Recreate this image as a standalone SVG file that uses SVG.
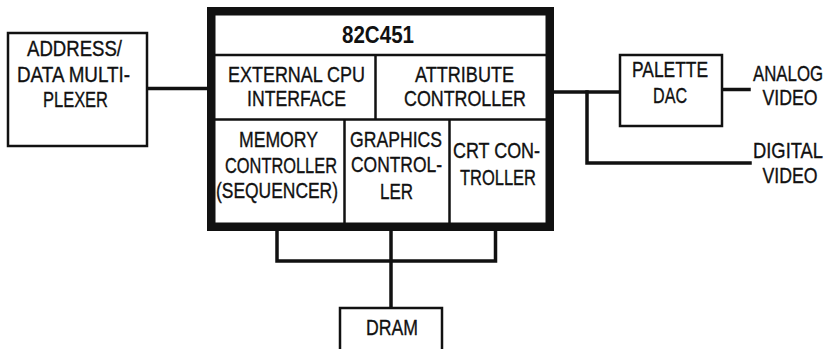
<svg xmlns="http://www.w3.org/2000/svg" width="829" height="349" viewBox="0 0 829 349">
<style>
.box{fill:#fff;stroke:#111;stroke-width:2.5}
.div{stroke:#111;stroke-width:2.5;fill:none}
.wire{stroke:#111;stroke-width:3.5;fill:none;stroke-linecap:square}
text{font-family:"Liberation Sans",Arial,sans-serif;font-size:18.5px;fill:#111;stroke:#111;stroke-width:0.3;text-anchor:middle}
.title{font-weight:bold;font-size:23px;stroke-width:0}
</style>
<rect width="829" height="349" fill="#fff"/>
<g id="connectors">
<line class="wire" x1="148" y1="88.5" x2="207" y2="88.5"/>
<line class="wire" x1="554" y1="92" x2="619" y2="92"/>
<polyline class="wire" points="587,92 587,163 750,163"/>
<line class="wire" x1="723" y1="89.5" x2="749" y2="89.5"/>
<polyline class="wire" points="277,231 277,261 495.5,261 495.5,231"/>
<line class="wire" x1="391" y1="231" x2="391" y2="307"/>
</g>
<g id="addr-mux">
<rect class="box" x="8" y="33" width="139" height="113"/>
<text transform="translate(74.5 56) scale(1 1.15)" textLength="95" lengthAdjust="spacingAndGlyphs">ADDRESS/</text>
<text transform="translate(73.5 82) scale(1 1.15)" textLength="113" lengthAdjust="spacingAndGlyphs">DATA MULTI-</text>
<text transform="translate(75.5 107) scale(1 1.15)" textLength="65" lengthAdjust="spacingAndGlyphs">PLEXER</text>
</g>
<g id="chip-82c451">
<rect x="211.25" y="11.25" width="338.5" height="215.5" fill="#fff" stroke="#111" stroke-width="8.5"/>
<line class="div" x1="215" y1="55" x2="546" y2="55"/>
<line class="div" x1="215" y1="119.5" x2="546" y2="119.5"/>
<line class="div" x1="375.5" y1="55" x2="375.5" y2="119.5"/>
<line class="div" x1="344.5" y1="119.5" x2="344.5" y2="223"/>
<line class="div" x1="449.5" y1="119.5" x2="449.5" y2="223"/>
<text class="title" x="378" y="43" textLength="72" lengthAdjust="spacingAndGlyphs">82C451</text>
</g>
<g id="ext-cpu-if">
<text transform="translate(296.5 82) scale(1 1.15)" textLength="137" lengthAdjust="spacingAndGlyphs">EXTERNAL CPU</text>
<text transform="translate(296.5 106) scale(1 1.15)" textLength="99" lengthAdjust="spacingAndGlyphs">INTERFACE</text>
</g>
<g id="attr-ctrl">
<text transform="translate(464.5 82) scale(1 1.15)" textLength="99" lengthAdjust="spacingAndGlyphs">ATTRIBUTE</text>
<text transform="translate(465 106) scale(1 1.15)" textLength="122" lengthAdjust="spacingAndGlyphs">CONTROLLER</text>
</g>
<g id="mem-ctrl">
<text transform="translate(278.5 147) scale(1 1.15)" textLength="79" lengthAdjust="spacingAndGlyphs">MEMORY</text>
<text transform="translate(281 173) scale(1 1.15)" textLength="112" lengthAdjust="spacingAndGlyphs">CONTROLLER</text>
<text transform="translate(277 198) scale(1 1.15)" textLength="122" lengthAdjust="spacingAndGlyphs">(SEQUENCER)</text>
</g>
<g id="gfx-ctrl">
<text transform="translate(396 147) scale(1 1.15)" textLength="92" lengthAdjust="spacingAndGlyphs">GRAPHICS</text>
<text transform="translate(396.5 172) scale(1 1.15)" textLength="91" lengthAdjust="spacingAndGlyphs">CONTROL-</text>
<text transform="translate(396.5 199) scale(1 1.15)" textLength="33" lengthAdjust="spacingAndGlyphs">LER</text>
</g>
<g id="crt-ctrl">
<text transform="translate(496.5 158) scale(1 1.15)" textLength="87" lengthAdjust="spacingAndGlyphs">CRT CON-</text>
<text transform="translate(498 185) scale(1 1.15)" textLength="76" lengthAdjust="spacingAndGlyphs">TROLLER</text>
</g>
<g id="palette-dac">
<rect class="box" x="620" y="55" width="102" height="71"/>
<text transform="translate(670 77) scale(1 1.15)" textLength="76" lengthAdjust="spacingAndGlyphs">PALETTE</text>
<text transform="translate(670 103) scale(1 1.15)" textLength="34" lengthAdjust="spacingAndGlyphs">DAC</text>
</g>
<g id="analog-video">
<text transform="translate(788 81) scale(1 1.15)" textLength="70" lengthAdjust="spacingAndGlyphs">ANALOG</text>
<text transform="translate(790 105) scale(1 1.15)" textLength="55" lengthAdjust="spacingAndGlyphs">VIDEO</text>
</g>
<g id="digital-video">
<text transform="translate(788 158) scale(1 1.15)" textLength="70" lengthAdjust="spacingAndGlyphs">DIGITAL</text>
<text transform="translate(790 183) scale(1 1.15)" textLength="55" lengthAdjust="spacingAndGlyphs">VIDEO</text>
</g>
<g id="dram">
<rect class="box" x="340" y="308" width="102" height="60"/>
<text transform="translate(392 335) scale(1 1.15)" textLength="52" lengthAdjust="spacingAndGlyphs">DRAM</text>
</g>
</svg>
